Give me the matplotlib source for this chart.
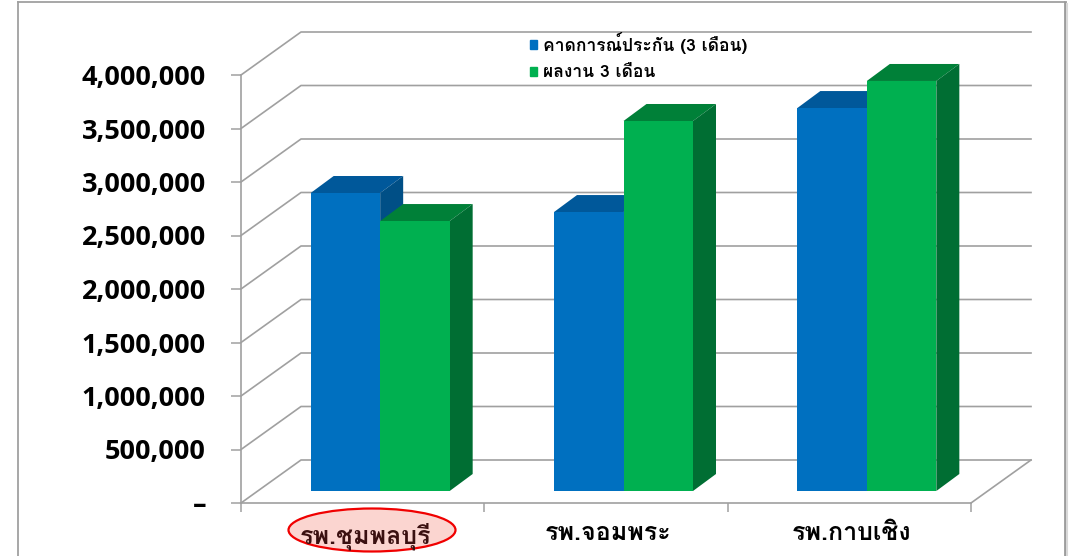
import matplotlib
matplotlib.use('Agg')
import matplotlib.pyplot as plt
from matplotlib.lines import Line2D
from matplotlib.patches import Ellipse, Patch

W, H = 1071, 556

# ข้อมูล
categories = ['รพ.ชุมพลบุรี', 'รพ.จอมพระ', 'รพ.กาบเชิง']
forecast = [2785000, 2607000, 3579000]
actual = [2523000, 3458000, 3832000]
series_names = ['คาดการณ์ประกัน (3 เดือน)', 'ผลงาน 3 เดือน']
y_ticks = [0, 500000, 1000000, 1500000, 2000000, 2500000, 3000000, 3500000, 4000000]
y_labels = ['–', '500,000', '1,000,000', '1,500,000', '2,000,000', '2,500,000',
            '3,000,000', '3,500,000', '4,000,000']

BLUE = ('#0070C0', '#00589A', '#004F86')
GREEN = ('#00B050', '#008038', '#006E33')
GRID = '#A0A0A0'
THAI = ['Loma', 'Noto Sans Thai', 'DejaVu Sans']

fig = plt.figure(figsize=(W / 100, H / 100), dpi=100)
ax = fig.add_axes([241 / W, (H - 503) / H, 730 / W, 428 / H])
ax.set_xlim(0, 3)
ax.set_ylim(0, 4000000)

# หน่วยความลึกของกราฟ 3 มิติ
ux = 3 / 730
uy = 4000000 / 428
depth_x, depth_y = 60 * ux, 43 * uy
bar_w = 69.5 * ux
off_x, off_y = 17.5 * ux, 12 * uy
side_x, side_y = 23 * ux, 17 * uy

# ผนังหลังและพื้น
for v in y_ticks:
    ax.plot([0, depth_x, 3 + depth_x], [v, v + depth_y, v + depth_y],
            color=GRID, lw=1.2, clip_on=False, zorder=1)
ax.plot([3, 3 + depth_x], [0, depth_y], color=GRID, lw=1.2, clip_on=False, zorder=1)


def draw_bar(left, value, colors, z):
    right = left + bar_w
    base = off_y
    top = off_y + value
    ax.bar(left, value, bar_w, bottom=base, align='edge', color=colors[0],
           clip_on=False, zorder=z + 0.2)
    ax.fill([left, right, right + side_x, left + side_x],
            [top, top, top + side_y, top + side_y],
            color=colors[1], lw=0, clip_on=False, zorder=z)
    ax.fill([right, right + side_x, right + side_x, right],
            [base, base + side_y, top + side_y, top],
            color=colors[2], lw=0, clip_on=False, zorder=z)


for i in range(len(categories)):
    mid = i + 0.5 + off_x
    draw_bar(mid - bar_w, forecast[i], BLUE, 3)
    draw_bar(mid, actual[i], GREEN, 4)

# แกน
for side in ['top', 'right']:
    ax.spines[side].set_visible(False)
for side in ['left', 'bottom']:
    ax.spines[side].set_color(GRID)
    ax.spines[side].set_linewidth(1.2)
ax.set_yticks(y_ticks)
ax.set_yticklabels(y_labels, family=['Open Sans', 'DejaVu Sans'], fontweight='bold', fontsize=19.5, color='black')
ax.tick_params(axis='y', length=7.2, width=1.1, color=GRID, pad=18)
ax.set_xticks([0, 1, 2, 3])
ax.set_xticklabels([])
ax.tick_params(axis='x', which='major', length=6.3, width=1.1, color=GRID)
ax.set_xticks([0.51, 1.51, 2.51], minor=True)
ax.set_xticklabels(categories, minor=True, family=THAI, fontweight='bold', fontsize=18)
ax.tick_params(axis='x', which='minor', length=0, pad=14)
ax.get_xticklabels(minor=True)[0].set_color('#3A1010')

# วงรีเน้น รพ.ชุมพลบุรี
ax.add_patch(Ellipse((131 * ux, -27 * uy), 167 * ux, 43 * uy, facecolor='#FBD5D0',
                     edgecolor='#F00000', lw=1.6, clip_on=False, zorder=1))

# คำอธิบาย
handles = [Patch(color=BLUE[0], label=series_names[0]), Patch(color=GREEN[0], label=series_names[1])]
leg = ax.legend(handles=handles, loc='upper left', bbox_to_anchor=(516 / W, 1 - 18 / H),
                bbox_transform=fig.transFigure, frameon=False, handlelength=0.42, handleheight=0.42,
                handletextpad=0.32, labelspacing=0.65, borderpad=0.3,
                prop={'family': THAI, 'weight': 'bold', 'size': 12.6})
leg.set_zorder(6)

# กรอบรูป
fig.add_artist(Line2D([18 / W, 18 / W], [0, 1 - 1.5 / H], color='#A0A0A0', lw=1.3))
fig.add_artist(Line2D([18 / W, 1064 / W], [1 - 1.5 / H, 1 - 1.5 / H], color='#A0A0A0', lw=1.3))
fig.add_artist(Line2D([1064.5 / W, 1064.5 / W], [0, 1 - 1.5 / H], color='#9A9A9A', lw=2))
fig.add_artist(Line2D([1067 / W, 1067 / W], [0, 1 - 4 / H], color='#D8D8D8', lw=1.5))

fig.savefig('out.png', dpi=100)
